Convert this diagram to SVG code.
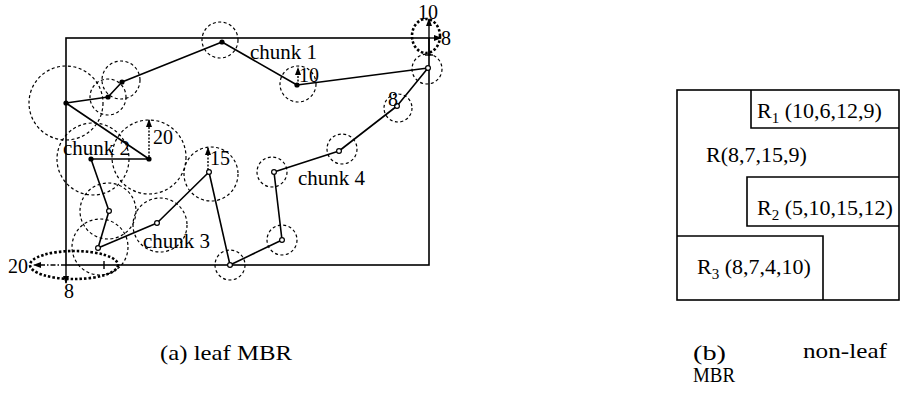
<svg xmlns="http://www.w3.org/2000/svg" width="907" height="394" viewBox="0 0 907 394">
<defs>
<marker id="ah" markerWidth="8" markerHeight="8" refX="7" refY="4" orient="auto" markerUnits="userSpaceOnUse"><path d="M0,1 L8,4 L0,7 z" fill="#000"/></marker>
</defs>
<style>
.t{font-family:"Liberation Serif","Times New Roman",serif;fill:#000}
.lbl{font-size:21px}
.rl{font-size:22px}
.num{font-size:20px}
.cap{font-size:21px}
.box{fill:none;stroke:#000;stroke-width:1.6}
.traj{fill:none;stroke:#000;stroke-width:1.6;stroke-linejoin:round}
.rng{fill:none;stroke:#000;stroke-width:1.2;stroke-dasharray:3 2.5}
.ell{fill:none;stroke:#000;stroke-width:2.6;stroke-dasharray:2.5 2}
.fp{fill:#000}
.op{fill:#fff;stroke:#000;stroke-width:1.2}
.ax{stroke:#000;stroke-width:1.4;fill:none}
.dax{stroke:#000;stroke-width:1.4;fill:none;stroke-dasharray:2 1.5}
</style>
<rect width="907" height="394" fill="#fff"/>

<!-- (a) leaf MBR -->
<g id="leaf-mbr">
<rect class="box" x="66" y="38" width="363" height="227"/>
</g>

<g id="connectors">
<polyline class="traj" points="91,159 149,159 66,103 108,97 122,82 222,42 297,85 428,68 397,106 339,151 274,172 282,240 230,265 209,172 157,223 98,248 109,211 91,159"/>
</g>

<g id="p1"><circle class="rng" cx="66" cy="103" r="37"/><circle class="fp" cx="66" cy="103" r="2.6"/></g>
<g id="p2"><circle class="rng" cx="108" cy="97" r="18"/><circle class="fp" cx="108" cy="97" r="2.6"/></g>
<g id="p3"><circle class="rng" cx="121" cy="80" r="19"/><circle class="fp" cx="122" cy="82" r="2.6"/></g>
<g id="p4"><circle class="rng" cx="220" cy="40" r="18"/><circle class="fp" cx="222" cy="42" r="2.6"/></g>
<g id="p5"><circle class="rng" cx="298" cy="84" r="18"/><circle class="fp" cx="297" cy="85" r="2.6"/>
<line class="dax" x1="298" y1="85" x2="298" y2="68" marker-end="url(#ah)"/>
<text class="t num" x="299" y="82">10</text></g>
<g id="p6"><circle class="rng" cx="427" cy="69" r="15"/><circle class="op" cx="428" cy="68" r="2.4"/></g>
<g id="p7"><circle class="rng" cx="398" cy="108" r="14"/><circle class="op" cx="397" cy="106" r="2.4"/>
<text class="t num" x="388" y="106">8</text></g>
<g id="p8"><circle class="rng" cx="342" cy="149" r="15"/><circle class="op" cx="339" cy="151" r="2.4"/></g>
<g id="p9"><circle class="rng" cx="272" cy="172" r="15"/><circle class="op" cx="274" cy="172" r="2.4"/></g>
<g id="p10"><circle class="rng" cx="282" cy="240" r="15"/><circle class="op" cx="282" cy="240" r="2.4"/></g>
<g id="p11"><circle class="rng" cx="230" cy="265" r="15"/><circle class="op" cx="230" cy="265" r="2.4"/></g>
<g id="p12"><circle class="rng" cx="211" cy="174" r="27"/><circle class="op" cx="209" cy="172" r="2.4"/>
<line class="dax" x1="208" y1="170" x2="208" y2="148" marker-end="url(#ah)"/>
<text class="t num" x="210" y="165">15</text></g>
<g id="p13"><circle class="rng" cx="160" cy="225" r="27"/><circle class="op" cx="157" cy="223" r="2.4"/></g>
<g id="p14"><circle class="rng" cx="100" cy="247" r="28"/><circle class="op" cx="98" cy="248" r="2.4"/></g>
<g id="p15"><circle class="rng" cx="108" cy="211" r="28"/><circle class="op" cx="109" cy="211" r="2.4"/></g>
<g id="p16"><circle class="rng" cx="93" cy="159" r="36"/><circle class="fp" cx="91" cy="159" r="2.6"/></g>
<g id="p17"><circle class="rng" cx="149" cy="157" r="37"/><circle class="fp" cx="149" cy="159" r="2.6"/>
<line class="dax" x1="149" y1="157" x2="149" y2="120" marker-end="url(#ah)"/>
<text class="t num" x="153" y="144">20</text></g>

<g id="labels-a">
<text class="t lbl" x="250" y="59">chunk 1</text>
<text class="t lbl" x="63" y="155">chunk 2</text>
<text class="t lbl" x="143" y="248">chunk 3</text>
<text class="t lbl" x="298" y="185">chunk 4</text>
</g>

<g id="corner-tr">
<ellipse class="ell" cx="426" cy="36" rx="14" ry="17"/>
<line class="ax" x1="429" y1="56" x2="429" y2="19" marker-end="url(#ah)"/>
<line class="ax" x1="425" y1="55" x2="433" y2="55"/>
<line class="ax" x1="429" y1="38" x2="441" y2="38" marker-end="url(#ah)"/>
<text class="t num" x="418" y="19">10</text>
<text class="t num" x="441" y="45">8</text>
</g>

<g id="corner-bl">
<ellipse class="ell" cx="74" cy="265" rx="44" ry="14"/>
<line class="ax" x1="66" y1="265" x2="34" y2="265" stroke-dasharray="5 2 1.5 2" marker-end="url(#ah)"/>
<line class="ax" x1="66" y1="265" x2="66" y2="283" marker-end="url(#ah)"/>
<line class="ax" x1="104" y1="261" x2="104" y2="269"/>
<text class="t num" x="8" y="273">20</text>
<text class="t num" x="64" y="298">8</text>
</g>

<text class="t cap" x="160" y="360" textLength="132" lengthAdjust="spacingAndGlyphs">(a) leaf MBR</text>

<!-- (b) non-leaf MBR -->
<g id="R"><rect class="box" x="677" y="90" width="222" height="210"/>
<text class="t rl" x="706" y="162">R(8,7,15,9)</text></g>
<g id="R1"><path class="box" d="M899,128 H751 V90"/>
<text class="t rl" x="757" y="118">R<tspan font-size="15" dy="5">1</tspan><tspan dy="-5"> (10,6,12,9)</tspan></text></g>
<g id="R2"><path class="box" d="M899,177 H747 V226 H899"/>
<text class="t rl" x="757" y="215">R<tspan font-size="15" dy="5">2</tspan><tspan dy="-5"> (5,10,15,12)</tspan></text></g>
<g id="R3"><path class="box" d="M677,236 H823 V300"/>
<text class="t rl" x="697" y="274">R<tspan font-size="15" dy="5">3</tspan><tspan dy="-5"> (8,7,4,10)</tspan></text></g>

<text class="t cap" x="693" y="360" textLength="33" lengthAdjust="spacingAndGlyphs">(b)</text>
<text class="t cap" x="803" y="358" textLength="84" lengthAdjust="spacingAndGlyphs">non-leaf</text>
<text class="t cap" x="693" y="382" textLength="42" lengthAdjust="spacingAndGlyphs">MBR</text>
</svg>
